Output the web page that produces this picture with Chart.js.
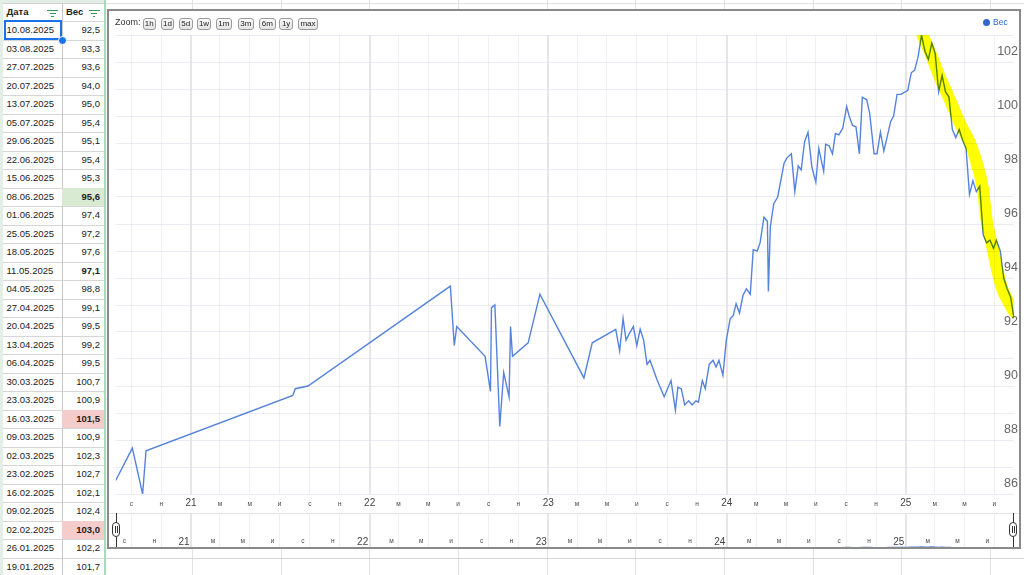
<!DOCTYPE html>
<html>
<head>
<meta charset="utf-8">
<script src="https://cdn.jsdelivr.net/npm/chart.js@4.4.1/dist/chart.umd.min.js"></script>
<style>
html,body{margin:0;padding:0;background:#fff;width:1024px;height:575px;overflow:hidden;font-family:'Liberation Sans',Arial,sans-serif;}
#page{position:relative;width:1024px;height:575px;overflow:hidden;}
.a{position:absolute;}
.hl{position:absolute;height:1px;background:#dadada;}
.vl{position:absolute;width:1px;background:#dadada;}
.cell{position:absolute;font-size:9.5px;color:#222;white-space:nowrap;line-height:18.5px;}
.btn{position:absolute;top:17.5px;height:10px;border:1px solid #9a9a9a;border-radius:3px;background:linear-gradient(#fafafa,#e4e4e4);font-size:8px;line-height:10px;text-align:center;color:#222;}
.funnel{position:absolute;width:11px;height:8px;}
.funnel i{position:absolute;height:1.4px;background:#2e9b55;}
</style>
</head>
<body>
<div id="page">
  <div id="sheet"></div>
  <div class="a" id="box" style="left:107px;top:9px;width:914px;height:540px;background:#fff;"></div>
  <canvas id="main" class="a" width="914" height="506" style="left:108px;top:10px;"></canvas>
  <canvas id="nav" class="a" width="914" height="38" style="left:108px;top:513px;"></canvas>
  <div class="a" style="left:109px;top:512.5px;width:910px;height:1px;background:#e4e4e4;"></div>
  <div class="a" id="zoomLabel" style="left:115px;top:16px;font-size:9px;color:#333;line-height:13px;"></div>
  <div id="zoomBtns"></div>
  <div id="legend" class="a" style="top:16px;left:983px;height:12px;font-size:8.5px;line-height:12px;color:#3366cc;"></div>
  <div id="handles"></div>
  <div class="a" style="left:107px;top:9px;width:914px;height:540px;box-sizing:border-box;border:2px solid #8a8a8a;pointer-events:none;"></div>
</div>
<script>
// ---------- data ----------
const seriesName = 'Вес';
const chartDates = [
 '2020-07-31','2020-09-03','2020-09-24','2020-10-01','2021-07-28','2021-08-02','2021-08-28',
 '2022-06-15','2022-06-23','2022-06-28','2022-08-25','2022-09-05','2022-09-07','2022-09-14',
 '2022-09-24','2022-10-02','2022-10-13','2022-10-16','2022-10-20','2022-11-21','2022-12-15',
 '2023-03-15','2023-04-01','2023-05-19','2023-05-27','2023-06-03','2023-06-09','2023-06-16',
 '2023-06-24','2023-07-01','2023-07-08','2023-07-15','2023-07-22','2023-07-28','2023-08-11',
 '2023-08-26','2023-09-09','2023-09-18','2023-09-23','2023-09-30','2023-10-07','2023-10-15',
 '2023-10-22','2023-10-30','2023-11-04','2023-11-12','2023-11-18','2023-11-26','2023-12-04',
 '2023-12-10','2023-12-16','2023-12-24','2023-12-31','2024-01-08','2024-01-14','2024-01-20',
 '2024-01-27','2024-02-03','2024-02-10','2024-02-18','2024-02-24','2024-03-03','2024-03-09',
 '2024-03-17','2024-03-24','2024-03-26','2024-03-30','2024-04-06','2024-04-14','2024-04-27',
 '2024-05-03','2024-05-12','2024-05-19','2024-05-26','2024-06-01','2024-06-08','2024-06-15',
 '2024-06-23','2024-07-01','2024-07-07','2024-07-17','2024-07-21','2024-07-28','2024-08-04',
 '2024-08-10','2024-08-17','2024-08-25','2024-09-02','2024-09-07','2024-09-14','2024-09-21',
 '2024-09-28','2024-10-04','2024-10-13','2024-10-19','2024-10-28','2024-11-03','2024-11-10',
 '2024-11-17','2024-12-01','2024-12-07','2024-12-14','2024-12-22','2025-01-05','2025-01-12'
];
const chartValues = [
 86.5,87.7,86.0,87.6,89.65,89.9,90.0,
 93.7,91.5,92.2,91.1,89.8,92.9,93.0,
 88.5,90.5,89.6,92.2,91.1,91.6,93.4,
 90.3,91.6,92.1,91.3,92.5,91.7,91.95,
 92.2,91.5,92.1,91.7,90.8,90.95,90.25,
 89.6,90.2,89.1,89.95,89.9,89.3,89.45,
 89.3,89.45,89.4,90.2,89.9,90.8,90.95,
 90.7,90.95,90.4,91.7,92.5,92.6,93.05,
 92.7,93.35,93.6,93.4,95.05,95.0,95.3,
 96.25,96.1,93.5,95.9,96.75,97.0,98.25,
 98.45,98.6,97.2,98.15,98.0,99.05,99.4,
 98.1,97.55,98.8,97.95,98.95,98.9,98.6,
 99.35,99.3,99.55,100.35,100.0,99.65,99.6,
 98.6,100.7,100.6,100.1,98.6,98.6,99.4,
 98.7,99.8,100.0,100.8,100.8,100.95,101.6
];
const tableDates = [
 '10.08.2025','03.08.2025','27.07.2025','20.07.2025','13.07.2025','05.07.2025','29.06.2025',
 '22.06.2025','15.06.2025','08.06.2025','01.06.2025','25.05.2025','18.05.2025','11.05.2025',
 '04.05.2025','27.04.2025','20.04.2025','13.04.2025','06.04.2025','30.03.2025','23.03.2025',
 '16.03.2025','09.03.2025','02.03.2025','23.02.2025','16.02.2025','09.02.2025','02.02.2025',
 '26.01.2025','19.01.2025'
];
const tableValues = [
 92.5,93.3,93.6,94.0,95.0,95.4,95.1,
 95.4,95.3,95.6,97.4,97.2,97.6,97.1,
 98.8,99.1,99.5,99.2,99.5,100.7,100.9,
 101.5,100.9,102.3,102.7,102.1,102.4,103.0,
 102.2,101.7
];
const greenCells = ['08.06.2025'];
const pinkCells = ['16.03.2025','02.02.2025'];
const boldCells = ['08.06.2025','16.03.2025','02.02.2025','11.05.2025'];
const hlDates = ['2025-02-04','2025-02-23','2025-03-11','2025-04-01','2025-04-21','2025-05-12','2025-05-26',
 '2025-06-07','2025-06-15','2025-06-28','2025-07-08','2025-07-18','2025-08-01','2025-08-10'];
const hlValues = [103.0,102.2,101.45,100.6,99.75,99.0,98.25,97.35,96.15,95.05,94.2,93.55,93.05,92.75];
const monthLetters = ['я','ф','м','а','м','и','и','а','с','о','н','д'];
const zoomButtons = ['1h','1d','5d','1w','1m','3m','6m','1y','max'];
const yMin = 86, yMax = 103;

// ---------- helpers ----------
const FF = "'Liberation Sans', Arial, sans-serif";
const isoMs = s => Date.UTC(+s.slice(0,4), +s.slice(5,7)-1, +s.slice(8,10));
const ruMs = s => Date.UTC(+s.slice(6,10), +s.slice(3,5)-1, +s.slice(0,2));
const series = chartDates.map((d,i)=>({x:isoMs(d), y:chartValues[i]}));
for (let i = tableDates.length-1; i >= 0; i--) {
  const ms = ruMs(tableDates[i]);
  if (ms > series[series.length-1].x) series.push({x:ms, y:tableValues[i]});
}
const highlight = hlDates.map((d,i)=>({x:isoMs(d), y:hlValues[i]}));
const xMin = series[0].x, xMax = series[series.length-1].x;

function buildTicks(scale){
  const t = [];
  for (let y = 2020; y <= 2025; y++) for (let m = 0; m < 12; m += 2) {
    const v = Date.UTC(y, m, 1);
    if (v >= scale.min && v <= scale.max) t.push({value:v});
  }
  scale.ticks = t;
}
const isYear = v => new Date(v).getUTCMonth() === 0;
function tickLabel(v){
  const d = new Date(v);
  return d.getUTCMonth() === 0 ? String(d.getUTCFullYear()).slice(2) : monthLetters[d.getUTCMonth()];
}
const gridColor = c => (c.tick && isYear(c.tick.value)) ? '#e6e6e6' : '#f0f0f0';
const gridWidth = c => (c.tick && isYear(c.tick.value)) ? 2 : 1;

const multiply = {
  id:'multiply',
  beforeDatasetDraw(chart,args){ if (chart.data.datasets[args.index].label === 'highlight'){ chart.ctx.save(); chart.ctx.globalCompositeOperation = 'multiply'; } },
  afterDatasetDraw(chart,args){ if (chart.data.datasets[args.index].label === 'highlight'){ chart.ctx.restore(); } }
};

Chart.defaults.font.family = FF;

new Chart(document.getElementById('main'), {
  type:'line',
  data:{datasets:[
    {label:'highlight', data:highlight, borderColor:'#ffff00', borderWidth:12, tension:0.35,
     pointRadius:0, borderCapStyle:'round', borderJoinStyle:'round', order:0},
    {label:seriesName, data:series, borderColor:'#5583dc', borderWidth:1.4, pointRadius:0, tension:0, order:1}
  ]},
  options:{
    responsive:false, animation:false, events:[],
    layout:{padding:{left:7.7, right:0, top:25, bottom:1.4}},
    plugins:{legend:{display:false}, tooltip:{enabled:false}},
    scales:{
      x:{type:'linear', min:xMin, max:xMax, afterBuildTicks:buildTicks,
         afterFit:s=>{s.height = 20.6;},
         border:{display:false},
         grid:{drawTicks:false, color:gridColor, lineWidth:gridWidth},
         ticks:{autoSkip:false, maxRotation:0, padding:3.3, callback:tickLabel,
           font:c=> (c.tick && isYear(c.tick.value)) ? {family:FF,size:10,lineHeight:1.2} : {family:FF,size:6.5,lineHeight:2.15},
           color:c=> (c.tick && isYear(c.tick.value)) ? '#444' : '#4a4a4a'}},
      y:{position:'right', min:yMin, max:yMax,
         afterFit:s=>{s.width = 8;},
         border:{display:false},
         grid:{drawTicks:false, color:'rgba(222,222,244,0.6)', lineWidth:1},
         ticks:{stepSize:1, mirror:true, padding:4, labelOffset:-10.5,
           callback:v=> (v % 2 === 0) ? String(v) : '',
           font:{family:FF,size:12.5}, color:'#666'}}
    }
  },
  plugins:[multiply]
});

new Chart(document.getElementById('nav'), {
  type:'line',
  data:{datasets:[
    {label:seriesName, data:series, borderColor:'#4a7de0', borderWidth:1.5, pointRadius:0,
     fill:'start', backgroundColor:'rgba(74,125,224,0.35)'}
  ]},
  options:{
    responsive:false, animation:false, events:[],
    layout:{padding:{left:7.7, right:8, top:0, bottom:0}},
    plugins:{legend:{display:false}, tooltip:{enabled:false}},
    scales:{
      x:{type:'linear', min:xMin, max:xMax, afterBuildTicks:buildTicks,
         afterFit:s=>{s.height = 2;},
         border:{display:false},
         grid:{drawTicks:false, color:gridColor, lineWidth:gridWidth},
         ticks:{autoSkip:false, maxRotation:0, mirror:true, padding:1, labelOffset:-7, callback:tickLabel,
           font:c=> (c.tick && isYear(c.tick.value)) ? {family:FF,size:10,lineHeight:1.2} : {family:FF,size:6.5,lineHeight:1.94},
           color:c=> (c.tick && isYear(c.tick.value)) ? '#444' : '#4a4a4a'}},
      y:{display:false, min:91.8, max:300}
    }
  }
});

// ---------- spreadsheet ----------
const sheet = document.getElementById('sheet');
let h = '';
const rowTop = n => 21 + 18.5*n;
h += '<div class="a" style="left:0;top:0;width:3px;height:575px;background:#e3efe6;"></div>';
h += '<div class="a" style="left:0;top:0;width:104px;height:2.5px;background:#e3efe6;"></div>';
[192,281,369,458,547,635,724,813,901,990].forEach(x=>{ h += `<div class="vl" style="left:${x}px;top:0;height:575px;background:#e2e2e2;"></div>`; });
h += `<div class="hl" style="left:104px;top:2.5px;width:920px;background:#e2e2e2;"></div>`;
for (let n = 0; n <= 30; n++) h += `<div class="hl" style="left:3px;top:${rowTop(n)}px;width:${n>=29?1021:101}px;background:#d6d6d6;"></div>`;
h += `<div class="hl" style="left:3px;top:2.5px;width:101px;background:#d2d2d2;"></div>`;
h += '<div class="vl" style="left:61.5px;top:2.5px;height:575px;background:#c8c8c8;"></div>';
h += '<div class="a" style="left:104px;top:0;width:2px;height:575px;background:#acd8bb;"></div>';
h += `<div class="cell" style="left:6.5px;top:2.5px;font-weight:bold;color:#222;">Дата</div>`;
h += `<div class="cell" style="left:66px;top:2.5px;font-weight:bold;color:#222;">${seriesName}</div>`;
[47,88.5].forEach(x=>{
  h += `<div class="funnel" style="left:${x}px;top:9.5px;"><i style="left:0;top:0;width:11px"></i><i style="left:2.5px;top:3px;width:6px"></i><i style="left:4.3px;top:6px;width:2.4px"></i></div>`;
});
tableDates.forEach((d,i)=>{
  const t = rowTop(i);
  let bg = '';
  if (greenCells.includes(d)) bg = '#d9ead3';
  if (pinkCells.includes(d)) bg = '#f4cccc';
  if (bg) h += `<div class="a" style="left:62px;top:${t+0.5}px;width:42px;height:18px;background:${bg};"></div>`;
  h += `<div class="cell" style="left:6.5px;top:${t}px;">${d}</div>`;
  const val = tableValues[i].toFixed(1).replace('.',',');
  h += `<div class="cell" style="left:62px;width:38px;text-align:right;top:${t}px;${boldCells.includes(d)?'font-weight:bold;':''}">${val}</div>`;
});
h += `<div class="a" style="left:3.5px;top:20px;width:58px;height:19.5px;box-sizing:border-box;border:2px solid #1a73e8;"></div>`;
h += `<div class="a" style="left:58px;top:36px;width:7px;height:7px;border-radius:50%;background:#1a73e8;border:1px solid #fff;"></div>`;
sheet.innerHTML = h;

// ---------- chart chrome ----------
document.getElementById('zoomLabel').textContent = 'Zoom:';
const btnPos = [[142.5,13.5],[161,13],[179,13.5],[197.3,13.5],[216,15.7],[237.7,16.3],[259,16.7],[279,14.3],[297.7,20.6]];
let bh = '';
zoomButtons.forEach((b,i)=>{ bh += `<div class="btn" style="left:${btnPos[i][0]}px;width:${btnPos[i][1]-2}px;">${b}</div>`; });
document.getElementById('zoomBtns').innerHTML = bh;
document.getElementById('legend').innerHTML =
  `<span style="display:inline-block;width:7px;height:7px;border-radius:50%;background:#3366cc;vertical-align:-0.5px;margin-right:3px;"></span>${seriesName}`;
let hh = '';
[116.3,1013.3].forEach(x=>{
  hh += `<div class="a" style="left:${x-0.75}px;top:512.5px;width:1.5px;height:36px;background:#333;"></div>`;
  hh += `<div class="a" style="left:${x-4}px;top:521.5px;width:8px;height:15.5px;box-sizing:border-box;border:1.3px solid #333;border-radius:4px;background:#fff;"></div>`;
  hh += `<div class="a" style="left:${x-1.5}px;top:525.5px;width:3px;height:7.5px;box-sizing:border-box;border-left:1px solid #333;border-right:1px solid #333;"></div>`;
});
document.getElementById('handles').innerHTML = hh;
</script>
</body>
</html>
